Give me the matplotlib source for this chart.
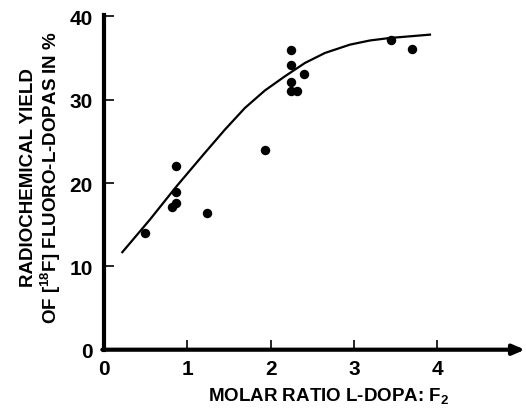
import matplotlib.pyplot as plt

plt.rcParams['font.family'] = 'Liberation Sans'
plt.rcParams['font.weight'] = 'bold'
plt.rcParams['mathtext.fontset'] = 'custom'
plt.rcParams['mathtext.rm'] = 'Liberation Sans:bold'
plt.rcParams['mathtext.bf'] = 'Liberation Sans:bold'

# measured points
ratio = [0.49, 0.86, 0.86, 0.86, 0.81, 1.23, 1.93, 2.24, 2.24, 2.24, 2.24, 2.32, 2.40, 3.44, 3.70]
yield_pct = [14.0, 22.0, 18.9, 17.6, 17.1, 16.4, 23.9, 35.9, 34.2, 32.1, 31.0, 31.0, 33.1, 37.1, 36.1]

# fitted curve
curve_x = [0.22, 0.55, 0.87, 1.20, 1.45, 1.69, 1.93, 2.17, 2.41, 2.65, 2.95, 3.19, 3.43, 3.67, 3.91]
curve_y = [11.7, 15.6, 19.6, 23.5, 26.4, 29.0, 31.1, 32.8, 34.4, 35.6, 36.6, 37.1, 37.4, 37.6, 37.8]

xticks = [0, 1, 2, 3, 4]
yticks = [0, 10, 20, 30, 40]

fig = plt.figure(figsize=(5.26, 4.14), dpi=100)
ax = fig.add_axes([0.1977, 0.1529, 0.8004, 0.8053])

ax.plot(curve_x, curve_y, color='black', lw=1.6, solid_joinstyle='round')
ax.plot(ratio, yield_pct, 'o', color='black', ms=6.8, mec='none')

ax.set_xlim(0, 5.05)
ax.set_ylim(0, 40)
ax.set_xticks(xticks)
ax.set_yticks(yticks)

for s in ['top', 'right', 'bottom']:
    ax.spines[s].set_visible(False)
ax.spines['left'].set_linewidth(3)
ax.spines['left'].set_bounds(0, 40.2)

ax.annotate('', xy=(5.05, 0), xytext=(-0.02, 0),
            xycoords='data', annotation_clip=False,
            arrowprops=dict(arrowstyle='-|>,head_length=0.7,head_width=0.3',
                            color='black', lw=3, shrinkA=0, shrinkB=0))

ax.tick_params(axis='both', direction='in', length=7, width=1.2,
               labelsize=15)
ax.tick_params(axis='x', pad=7)
ax.tick_params(axis='y', pad=8)
for lab in ax.get_xticklabels() + ax.get_yticklabels():
    lab.set_fontweight('heavy')

fig.text(0.054, 0.57, 'RADIOCHEMICAL YIELD', rotation=90, ha='center', va='center',
         fontsize=13.5, fontweight='bold')
fig.text(0.097, 0.57, r'OF [$^{18}$F] FLUORO-L-DOPAS IN %', rotation=90,
         ha='center', va='center', fontsize=13.5, fontweight='bold')
fig.text(0.624, 0.041, r'MOLAR RATIO L-DOPA: F$_2$', ha='center', va='center',
         fontsize=13.5, fontweight='bold')

fig.savefig('out.png', dpi=100)
